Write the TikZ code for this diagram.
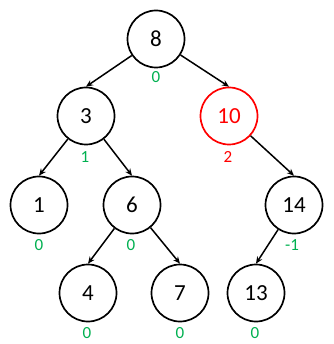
\documentclass[tikz,border=0pt]{standalone}
\usepackage{fontspec}
\setmainfont{Carlito}
\usetikzlibrary{arrows.meta}
\definecolor{bfgreen}{HTML}{00B050}
\begin{document}
\begin{tikzpicture}[x=1pt,y=-1pt,
  tnode/.style={circle,draw=black,line width=1.7pt,minimum size=57pt,inner sep=0pt,font=\fontsize{23}{25}\selectfont},
  rnode/.style={tnode,draw=red,text=red},
  bal/.style={text=bfgreen,font=\fontsize{17}{19}\selectfont,inner sep=0pt},
  rbal/.style={bal,text=red},
  edge/.style={line width=1.5pt,-{Stealth[length=7pt,width=6pt]}}]
\useasboundingbox (0,0) rectangle (333,344);
\node[tnode] (n8) at (156,39) {8};
\node[tnode] (n3) at (86,116) {3};
\node[rnode] (n10) at (229,116) {10};
\node[tnode] (n1) at (39,205) {1};
\node[tnode] (n6) at (132,205) {6};
\node[tnode] (n14) at (294,205) {14};
\node[tnode] (n4) at (88,293) {4};
\node[tnode] (n7) at (180,293) {7};
\node[tnode] (n13) at (256,293) {13};
\node[bal] (b8) at (156,77) {0};
\node[bal] (b3) at (85,157) {1};
\node[rbal] (b10) at (228,157) {2};
\node[bal] (b1) at (39,245) {0};
\node[bal] (b6) at (131,245) {0};
\node[bal] (b14) at (292,245) {-1};
\node[bal] (b4) at (87,333) {0};
\node[bal] (b7) at (180,333) {0};
\node[bal] (b13) at (255,333) {0};
\draw[edge] (n8) -- (n3.north);
\draw[edge] (n8) -- (n10.north);
\draw[edge] (n3) -- (n1.north);
\draw[edge] (n3) -- (n6.north);
\draw[edge] (n10) -- (n14.north);
\draw[edge] (n6) -- (n4.north);
\draw[edge] (n6) -- (n7.north);
\draw[edge] (n14) -- (n13.north);
\end{tikzpicture}
\end{document}
